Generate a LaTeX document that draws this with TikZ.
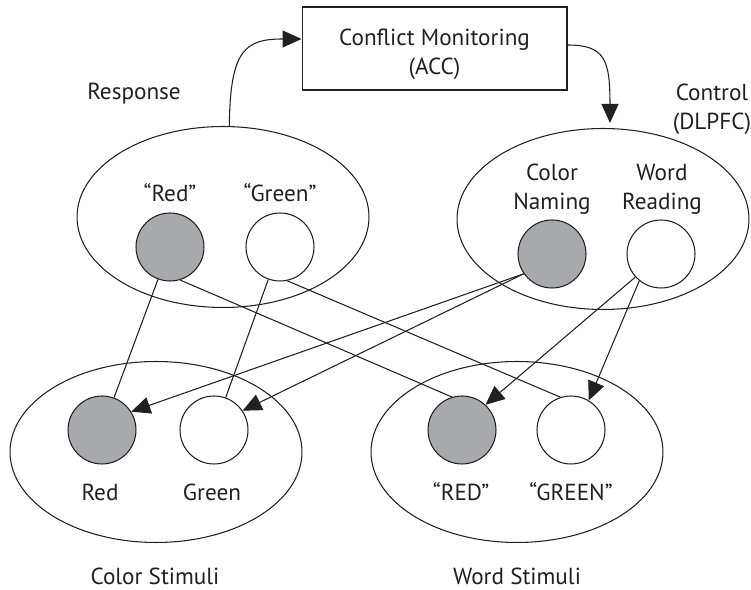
\documentclass[tikz,border=0pt]{standalone}
\usepackage{fontspec}
\setmainfont{PT Sans}
\usetikzlibrary{shapes.geometric,arrows.meta}
\definecolor{ink}{HTML}{231F20}
\definecolor{dot}{HTML}{A7A9AC}
\tikzset{
  grp/.style={draw,ellipse,minimum width=5.84cm,minimum height=3.62cm,inner sep=0pt},
  unit/.style={draw,circle,minimum size=1.36cm,inner sep=0pt},
  lbl/.style={align=center,font=\fontsize{13.2}{16.5}\selectfont},
  tip/.style={-{Triangle[length=0.38cm,width=0.34cm]}}
}
\begin{document}
\begin{tikzpicture}[x=0.02cm,y=-0.02cm,color=ink,line width=0.6pt]
\useasboundingbox (0,0) rectangle (751,590);
% the four groups
\node[grp] (resp) at (223,217) {};
\node[grp] (ctrl) at (603,219) {};
\node[grp] (colstim) at (156,452) {};
\node[grp] (wordstim) at (517,452) {};
\node[draw,minimum width=5.3cm,minimum height=1.66cm] (acc) at (434.5,48.5) {};
\node[lbl] (accLbl) at (434.5,54) {Conflict Monitoring\\(ACC)};

% units
\node[unit,fill=dot] (rRed) at (170,247) {};
\node[unit] (rGreen) at (280,247) {};
\node[unit,fill=dot] (cName) at (552,254) {};
\node[unit] (wRead) at (661,254) {};
\node[unit,fill=dot] (sRed) at (102,430) {};
\node[unit] (sGreen) at (214,430) {};
\node[unit,fill=dot] (wRED) at (462,430) {};
\node[unit] (wGREEN) at (571,430) {};

% labels
\node[lbl,anchor=base] (respLbl) at (134,100) {Response};
\node[lbl] (ctrlLbl) at (712,109) {Control\\(DLPFC)};
\node[lbl,anchor=base] (rRedLbl) at (170,202) {“Red”};
\node[lbl,anchor=base] (rGreenLbl) at (280,202) {“Green”};
\node[lbl] (cNameLbl) at (552,189) {Color\\Naming};
\node[lbl] (wReadLbl) at (662,189) {Word\\Reading};
\node[lbl,anchor=base] (sRedLbl) at (100,501) {Red};
\node[lbl,anchor=base] (sGreenLbl) at (212,501) {Green};
\node[lbl,anchor=base] (wREDLbl) at (461,501) {“RED”};
\node[lbl,anchor=base] (wGREENLbl) at (571,501) {“GREEN”};
\node[lbl,anchor=base] (colstimLbl) at (155,585) {Color Stimuli};
\node[lbl,anchor=base] (wordstimLbl) at (517,585) {Word Stimuli};

% connections
\draw (rRed) -- (sRed);
\draw (rRed.-73) -- (wRED.107);
\draw (rGreen) -- (sGreen);
\draw (rGreen.-78) -- (wGREEN.108);
\draw[tip] (cName.215) -- (sRed.32);
\draw[tip] (cName.215) -- (sGreen.34);
\draw[tip] (wRead.222) -- (wRED.47);
\draw[tip] (wRead.231) -- (wGREEN.59);

\draw[tip] (resp.86) .. controls (230,50) and (245,39) .. ([yshift=0.19cm]acc.west);
\draw[tip] ([yshift=0.07cm]acc.east) .. controls (605,45) and (610,60) .. ([xshift=0.14cm,yshift=0.1cm]ctrl.north);
\end{tikzpicture}
\end{document}
